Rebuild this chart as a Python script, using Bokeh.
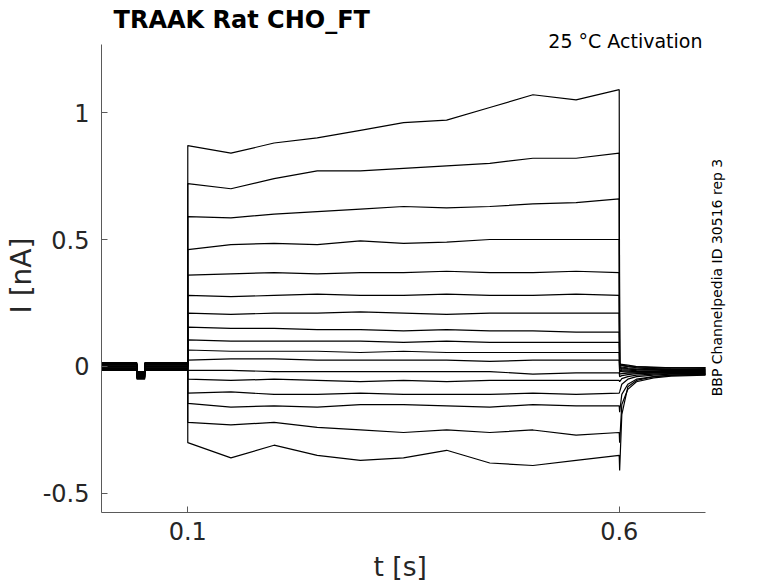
import math
from bokeh.plotting import figure
from bokeh.models import Range1d, Label, FixedTicker, ColumnDataSource, Title
from bokeh.embed import file_html
from bokeh.resources import INLINE

# ---------------- data ----------------
title_text = "TRAAK  Rat  CHO_FT"
condition_text = "25 °C  Activation"
source_text = "BBP Channelpedia ID 30516 rep 3"
x_label = "t [s]"
y_label = "I [nA]"

x_ticks = [0.1, 0.6]
y_ticks = [-0.5, 0, 0.5, 1]
x_limits = (0.0, 0.7)
y_limits = (-0.575, 1.268)

# baseline before the voltage step (small artefact dip around 0.045 s)
t_pre = [0.0, 0.041, 0.0411, 0.050, 0.0501, 0.0999]
pre_shape = [0.0, 0.0, -0.035, -0.035, 0.0, 0.0]
pre_offset = [0.010, -0.010, 0.005, -0.005, 0.000, 0.012, -0.012, 0.008, -0.008,
              0.003, -0.003, 0.015, -0.015, 0.006, -0.006, 0.000, 0.010]

# current during the step, sampled every 0.05 s
t_pulse = [0.10, 0.15, 0.20, 0.25, 0.30, 0.35, 0.40, 0.45, 0.50, 0.55, 0.60]
I_pulse = [
    [0.87, 0.84, 0.88, 0.90, 0.93, 0.96, 0.97, 1.02, 1.07, 1.05, 1.09],
    [0.72, 0.70, 0.74, 0.77, 0.77, 0.78, 0.79, 0.80, 0.82, 0.82, 0.84],
    [0.59, 0.585, 0.60, 0.61, 0.62, 0.63, 0.625, 0.63, 0.64, 0.645, 0.66],
    [0.46, 0.48, 0.485, 0.48, 0.495, 0.485, 0.49, 0.50, 0.50, 0.50, 0.50],
    [0.36, 0.365, 0.37, 0.365, 0.37, 0.37, 0.375, 0.37, 0.37, 0.375, 0.37],
    [0.28, 0.275, 0.28, 0.285, 0.28, 0.28, 0.285, 0.28, 0.28, 0.285, 0.28],
    [0.21, 0.205, 0.21, 0.21, 0.215, 0.21, 0.205, 0.21, 0.21, 0.21, 0.21],
    [0.155, 0.15, 0.15, 0.145, 0.145, 0.14, 0.145, 0.14, 0.14, 0.135, 0.135],
    [0.105, 0.10, 0.10, 0.10, 0.10, 0.095, 0.10, 0.095, 0.095, 0.095, 0.095],
    [0.065, 0.06, 0.06, 0.06, 0.055, 0.06, 0.055, 0.055, 0.055, 0.055, 0.055],
    [0.025, 0.03, 0.03, 0.025, 0.025, 0.025, 0.025, 0.02, 0.025, 0.025, 0.025],
    [-0.015, -0.015, -0.02, -0.02, -0.02, -0.02, -0.02, -0.02, -0.03, -0.025, -0.025],
    [-0.05, -0.055, -0.05, -0.055, -0.06, -0.055, -0.06, -0.055, -0.055, -0.055, -0.055],
    [-0.105, -0.10, -0.11, -0.11, -0.105, -0.11, -0.11, -0.11, -0.105, -0.11, -0.105],
    [-0.145, -0.16, -0.155, -0.16, -0.15, -0.15, -0.155, -0.16, -0.15, -0.155, -0.155],
    [-0.22, -0.23, -0.22, -0.24, -0.25, -0.26, -0.25, -0.26, -0.25, -0.27, -0.26],
    [-0.30, -0.36, -0.31, -0.35, -0.37, -0.36, -0.33, -0.38, -0.39, -0.37, -0.35],
]

# tail currents after the step
t_tail = [0.6005, 0.603, 0.61, 0.62, 0.64, 0.66, 0.70]
I_tail = [
    [0.010, 0.005, 0.000, -0.005, -0.010, -0.010, -0.010],
    [0.012, 0.008, 0.005, 0.000, -0.005, -0.005, -0.008],
    [0.008, 0.005, 0.002, 0.000, -0.002, -0.005, -0.005],
    [0.005, 0.002, 0.000, -0.002, -0.004, -0.006, -0.004],
    [0.000, -0.003, -0.005, -0.006, -0.008, -0.010, -0.012],
    [-0.003, -0.006, -0.008, -0.010, -0.012, -0.012, -0.014],
    [-0.006, -0.008, -0.010, -0.012, -0.014, -0.016, -0.016],
    [-0.010, -0.012, -0.014, -0.016, -0.018, -0.018, -0.018],
    [-0.015, -0.016, -0.018, -0.020, -0.020, -0.020, -0.020],
    [-0.020, -0.020, -0.022, -0.022, -0.022, -0.022, -0.022],
    [-0.030, -0.028, -0.026, -0.025, -0.024, -0.024, -0.024],
    [-0.040, -0.036, -0.032, -0.028, -0.026, -0.026, -0.026],
    [-0.060, -0.048, -0.040, -0.034, -0.030, -0.028, -0.028],
    [-0.100, -0.070, -0.050, -0.040, -0.034, -0.030, -0.030],
    [-0.180, -0.110, -0.070, -0.050, -0.040, -0.034, -0.032],
    [-0.300, -0.150, -0.090, -0.060, -0.045, -0.038, -0.034],
    [-0.410, -0.190, -0.080, -0.055, -0.040, -0.035, -0.030],
]

# ---------------- build traces ----------------
xs, ys = [], []
for k in range(len(I_pulse)):
    xs.append(t_pre + t_pulse + t_tail)
    ys.append([pre_offset[k] + s for s in pre_shape] + I_pulse[k] + I_tail[k])
src = ColumnDataSource(dict(xs=xs, ys=ys))

FONT = "DejaVu Sans"
AX = "#262626"

# The frame is extended above and to the right so that the annotation texts
# (which sit outside the axes box) are not clipped; the axes themselves are
# limited to the real data limits via `bounds`.
W, H = 778, 583
LEFT, BOTTOM = 101, 71
ax_px_w = 604.0   # axes box width in px
ax_px_h = 468.0   # axes box height in px
x_end = x_limits[1] + (W - LEFT - ax_px_w) / ax_px_w * (x_limits[1] - x_limits[0])
y_end = y_limits[1] + (H - BOTTOM - ax_px_h) / ax_px_h * (y_limits[1] - y_limits[0])

p = figure(width=W, height=H, output_backend="svg", toolbar_location=None,
           x_range=Range1d(x_limits[0], x_end), y_range=Range1d(y_limits[0], y_end),
           min_border_left=LEFT, min_border_right=0, min_border_top=0,
           min_border_bottom=BOTTOM)
p.outline_line_color = None
p.xgrid.visible = False
p.ygrid.visible = False
p.background_fill_color = "white"
p.border_fill_color = "white"

p.multi_line(xs="xs", ys="ys", source=src, line_color="black", line_width=1.2)

for ax in (p.xaxis[0], p.yaxis[0]):
    ax.axis_line_color = "#5a5a5a"
    ax.axis_line_width = 1
    ax.major_tick_line_color = "#5a5a5a"
    ax.major_tick_in = 6
    ax.major_tick_out = 0
    ax.minor_tick_line_color = None
    ax.major_label_text_font = FONT
    ax.major_label_text_font_size = "24px"
    ax.major_label_text_color = AX

p.xaxis.bounds = x_limits
p.yaxis.bounds = y_limits
p.xaxis.ticker = FixedTicker(ticks=x_ticks)
p.yaxis.ticker = FixedTicker(ticks=y_ticks)
p.xaxis.major_label_overrides = {0.1: "0.1", 0.6: "0.6"}
p.yaxis.major_label_overrides = {-0.5: "-0.5", 0: "0", 0.5: "0.5", 1: "1"}
p.xaxis.major_label_standoff = 9
p.yaxis.major_label_standoff = 12

# axis titles, placed along the axes box (not the extended frame)
p.add_layout(Title(text=" ", text_font=FONT, text_font_size="5px",
                   standoff=0), "below")
p.add_layout(Title(text=x_label, text_font=FONT, text_font_size="26.5px",
                   text_font_style="normal", text_color=AX, align="left",
                   offset=272, vertical_align="top", standoff=0), "below")
p.add_layout(Title(text=y_label, text_font=FONT, text_font_size="28px",
                   text_font_style="normal", text_color=AX, align="left",
                   offset=199, vertical_align="top", standoff=0), "left")

p.add_layout(Label(x=0.014, y=1.366, text=title_text, text_font=FONT,
                   text_font_size="24px", text_font_style="bold",
                   text_color="black", text_align="left",
                   text_baseline="alphabetic"))
p.add_layout(Label(x=0.7035, y=1.2835, text=condition_text, text_font=FONT,
                   text_font_size="19px", text_color="black",
                   text_align="right", text_baseline="alphabetic"))
p.add_layout(Label(x=0.7139, y=0.3504, text=source_text, text_font=FONT,
                   text_font_size="14px", text_color="black",
                   angle=math.pi / 2, text_align="center",
                   text_baseline="middle"))

open("out.html", "w").write(file_html(p, INLINE))
